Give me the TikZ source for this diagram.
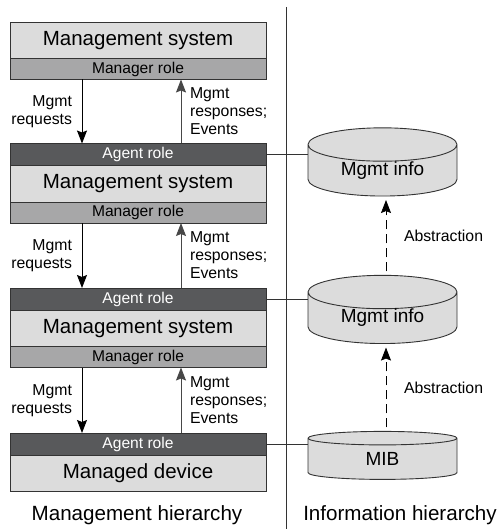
\documentclass[tikz,border=0pt]{standalone}
\usepackage{fontspec}
\setmainfont{Liberation Sans}
\usetikzlibrary{arrows.meta,positioning,shapes.geometric}
\definecolor{sysgray}{HTML}{DCDCDC}
\definecolor{mgrgray}{HTML}{A7A7A8}
\definecolor{agtgray}{HTML}{58595B}
\definecolor{linegray}{HTML}{333333}

\begin{document}
\begin{tikzpicture}[
  x=1pt,y=-1pt,line width=0.9pt,outer sep=0pt,
  >={Stealth[length=13pt,width=10pt,inset=2pt]},
  sys/.style={draw=linegray,fill=sysgray,minimum width=256pt,minimum height=36.5pt,inner sep=0pt,font=\fontsize{20.5}{24}\selectfont},
  mgr/.style={draw=linegray,fill=mgrgray,minimum width=256pt,minimum height=21pt,inner sep=0pt,font=\fontsize{15.6}{18}\selectfont},
  agt/.style={mgr,fill=agtgray,minimum height=22pt,text=white},
  db/.style={draw=linegray,fill=sysgray,cylinder,shape border rotate=90,aspect=0.4,minimum width=149pt,inner sep=0pt,font=\fontsize{19}{22}\selectfont},
  lbl/.style={font=\fontsize{15.8}{18}\selectfont,inner sep=0pt},
  title/.style={font=\fontsize{20.6}{24}\selectfont,inner sep=0pt},
  dn/.style={->,line width=0.9pt},
  up/.style={->,line width=0.9pt,black!72},
  absarr/.style={->,line width=0.8pt,dash pattern=on 9pt off 5pt}
]
\useasboundingbox (0,0) rectangle (502,529);

% ---- management hierarchy : left column ----
\node[sys] (sys1) at (138,40.25) {Management system};
\node[mgr,below=0pt of sys1] (mgr1) {Manager role};
\node[agt,below=64pt of mgr1] (agt2) {Agent role};
\node[sys,below=0pt of agt2] (sys2) {Management system};
\node[mgr,below=0pt of sys2] (mgr2) {Manager role};
\node[agt,below=65pt of mgr2] (agt3) {Agent role};
\node[sys,below=0pt of agt3] (sys3) {Management system};
\node[mgr,below=0pt of sys3] (mgr3) {Manager role};
\node[agt,below=65.5pt of mgr3] (agt4) {Agent role};
\node[sys,below=0pt of agt4] (dev) {Managed device};
\node[title,anchor=base] (mh) at (137,520) {Management hierarchy};

% ---- information hierarchy : right column ----
\node[db,minimum height=55pt] (info1) at (382.5,170.5) {Mgmt info};
\node[db,minimum height=64pt] (info2) at (382.5,318) {Mgmt info};
\node[db,minimum height=48pt] (mib) at (382.5,459) {MIB};
\node[title,anchor=base] (ih) at (400,520) {Information hierarchy};

% separator
\coordinate (septop) at (286,7);
\coordinate (sepbot) at (286,529);
\draw[linegray,line width=0.8pt] (septop) -- (sepbot);

% wires
\foreach \m/\a in {mgr1/agt2,mgr2/agt3,mgr3/agt4}{
  \draw[dn] ([xshift=72pt]\m.south west) -- ([xshift=72pt]\a.north west)
    node[midway,left=10pt,lbl,align=right,black]{Mgmt\\requests};
  \draw[up] ([xshift=171pt]\a.north west) -- ([xshift=171pt]\m.south west)
    node[midway,right=9pt,lbl,align=left,black]{Mgmt\\responses;\\Events};
}
\draw[linegray] (agt2.east) -- (agt2.east -| info1.west);
\draw[linegray] (agt3.east) -- (agt3.east -| info2.west);
\draw[linegray] (agt4.east) -- (agt4.east -| mib.west);

% abstraction
\draw[absarr,shorten <=4pt,shorten >=4pt] ([xshift=3.5pt]info2.north) -- ([xshift=3.5pt]info1.south)
  node[midway,right=18pt,lbl]{Abstraction};
\draw[absarr,shorten <=4pt,shorten >=4pt] ([xshift=3.5pt]mib.north) -- ([xshift=3.5pt]info2.south)
  node[midway,right=18pt,lbl]{Abstraction};
\end{tikzpicture}
\end{document}
